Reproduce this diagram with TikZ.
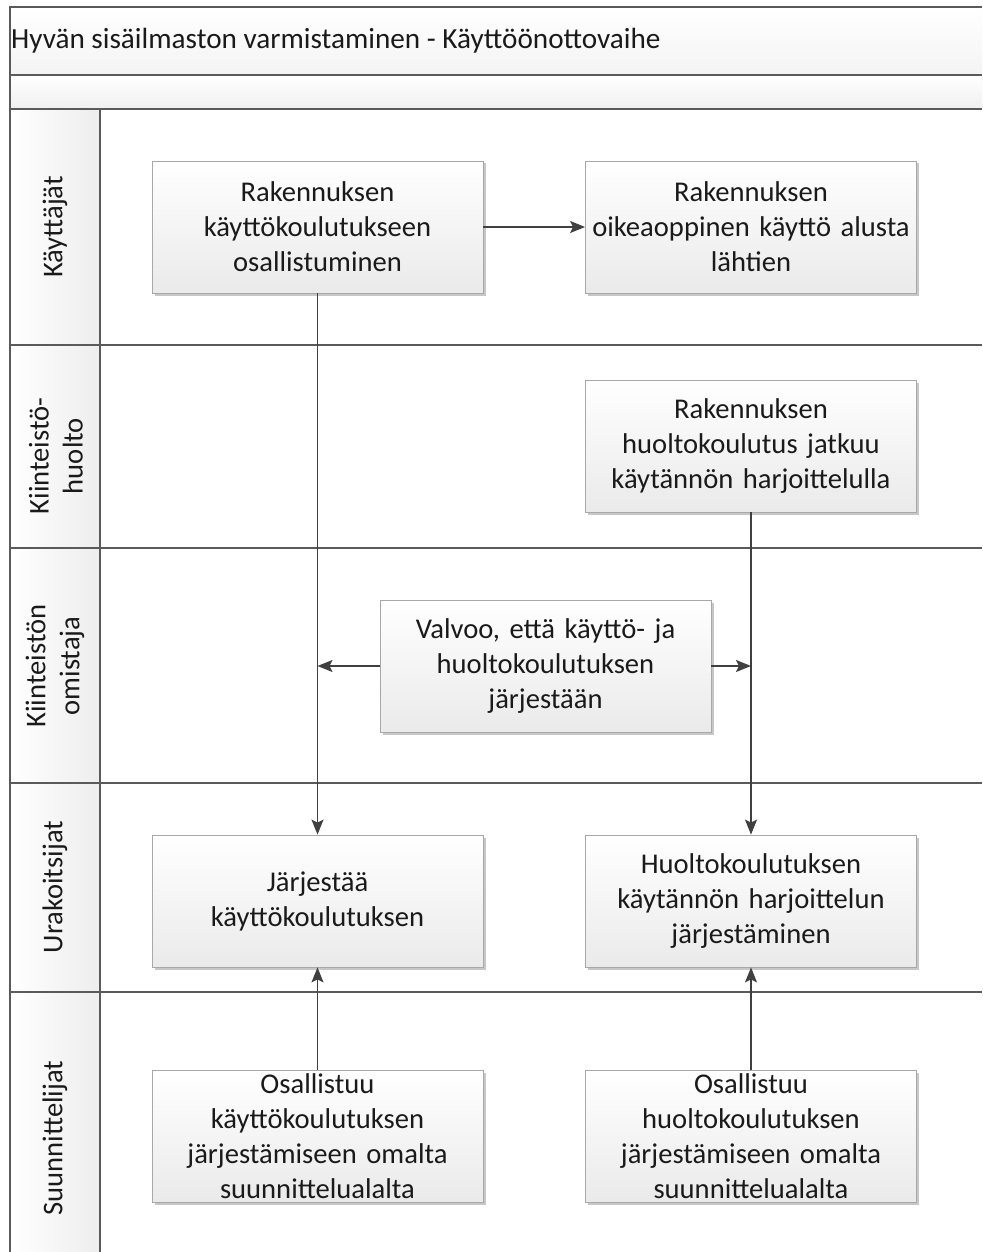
\documentclass[tikz,border=0pt]{standalone}
\usepackage{fontspec}
\setmainfont{Carlito}
\usetikzlibrary{arrows.meta,shadows}
\definecolor{linegray}{HTML}{5A5A5A}
\definecolor{boxedge}{HTML}{A8A8A8}
\definecolor{boxgray}{HTML}{EAEAEA}
\definecolor{arrowgray}{HTML}{404040}
\definecolor{txt}{HTML}{1A1A1A}
\begin{document}
\begin{tikzpicture}[x=1pt,y=-1pt,
  frame/.style={draw=linegray, line width=1.5pt},
  proc/.style={draw=boxedge, line width=0.8pt, top color=white, bottom color=boxgray,
    minimum width=331pt, minimum height=132pt, text width=328pt, align=center,
    inner sep=0pt, text=txt, font=\fontsize{28.6}{35}\selectfont,
    drop shadow={shadow xshift=2.5pt, shadow yshift=-2.5pt, fill=black, opacity=0.22}},
  arr/.style={draw=arrowgray, line width=1.6pt, -{Stealth[length=15pt,width=12pt,inset=3pt]}},
  lanelabel/.style={rotate=90, align=center, text=txt, font=\fontsize{28.6}{34}\selectfont}
]
\useasboundingbox (0,0) rectangle (982,1252);
% bands
\shade[top color=white, bottom color=gray!9] (10,7) rectangle (982,75);
\shade[top color=white, bottom color=gray!12] (10,75) rectangle (982,109);
\shade[left color=white, right color=gray!14] (10,109) rectangle (100,1252);
% frame lines
\draw[frame] (10,1252) -- (10,7) -- (982,7);
\foreach \yy in {75,109,345,548,783,992} \draw[frame] (10,\yy) -- (982,\yy);
\draw[frame] (100,109) -- (100,1252);
% title
\node[anchor=west, text=txt, font=\fontsize{29.2}{35}\selectfont, inner sep=0pt] (title) at (11,41) {Hyvän sisäilmaston varmistaminen - Käyttöönottovaihe};
% lane labels
\node[lanelabel] (l1) at (55,227) {Käyttäjät};
\node[lanelabel] (l2) at (56,456) {Kiinteistö-\\huolto};
\node[lanelabel] (l3) at (55,666) {Kiinteistön\\omistaja};
\node[lanelabel] (l4) at (55,887) {Urakoitsijat};
\node[lanelabel] (l5) at (55,1138) {Suunnittelijat};
% process boxes
\node[proc] (b1) at (317.5,227) {Rakennuksen\\käyttökoulutukseen\\osallistuminen};
\node[proc] (b2) at (751,227) {Rakennuksen\\oikeaoppinen käyttö alusta\\lähtien};
\node[proc] (b3) at (751,446) {Rakennuksen\\huoltokoulutus jatkuu\\käytännön harjoittelulla};
\node[proc] (b4) at (545.5,666) {Valvoo, että käyttö- ja\\huoltokoulutuksen\\järjestään};
\node[proc] (b5) at (317.5,901) {Järjestää\\käyttökoulutuksen};
\node[proc] (b6) at (751,901) {Huoltokoulutuksen\\käytännön harjoittelun\\järjestäminen};
\node[proc] (b7) at (317.5,1136) {Osallistuu\\käyttökoulutuksen\\järjestämiseen omalta\\suunnittelualalta};
\node[proc] (b8) at (751,1136) {Osallistuu\\huoltokoulutuksen\\järjestämiseen omalta\\suunnittelualalta};
% connectors
\draw[arr] (b1) -- (b2);
\draw[arr] (b1) -- (b5);
\draw[arr] (b4.west) -- (b4.west -| b1);
\draw[arr] (b4.east) -- (b4.east -| b3);
\draw[arr] (b3) -- (b6);
\draw[arr] (b7) -- (b5);
\draw[arr] (b8) -- (b6);
\end{tikzpicture}
\end{document}
